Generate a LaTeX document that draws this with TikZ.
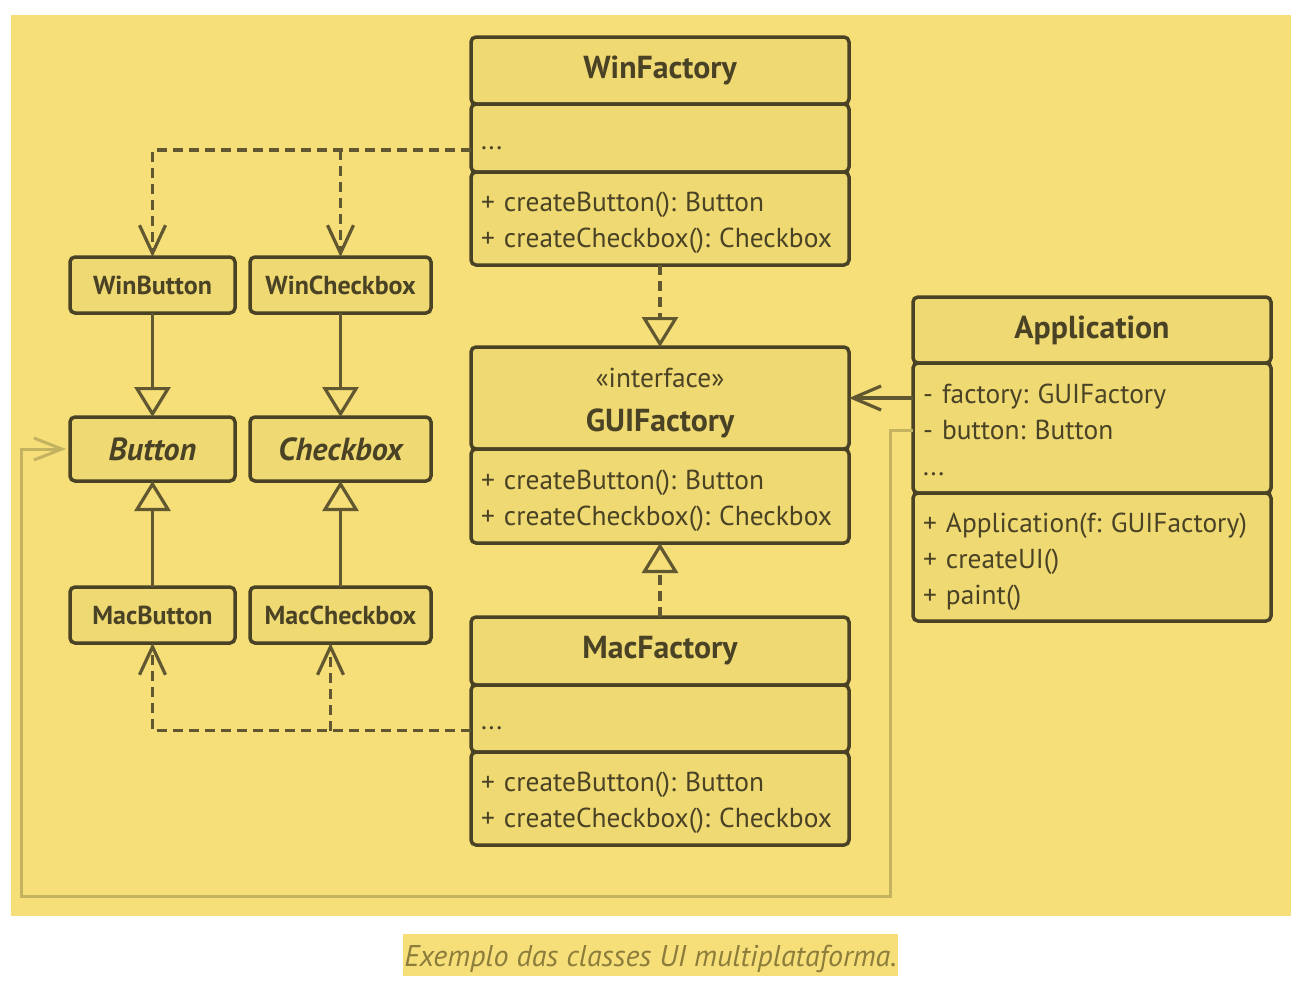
\documentclass[tikz,border=0pt]{standalone}
\usepackage{fontspec}
\setmainfont{PT Sans}
\usetikzlibrary{arrows.meta,calc}
\definecolor{bg}{HTML}{F6DF78}
\definecolor{nfill}{HTML}{EFD973}
\definecolor{bord}{HTML}{4A4225}
\definecolor{conn}{HTML}{615831}
\definecolor{lightc}{HTML}{C3B260}
\definecolor{captxt}{HTML}{8C7D3C}
\frenchspacing
\newcommand\cltitle{\fontsize{31.8}{36}\selectfont\bfseries}
\newcommand\clmem{\fontsize{27.4}{36}\selectfont}
\newcommand\smallcls{\fontsize{26}{28}\selectfont\bfseries}
\newcommand\abscls{\fontsize{32}{34}\selectfont\bfseries\itshape}
\begin{document}
\begin{tikzpicture}[x=1pt,y=-1pt,
  comp/.style={draw=bord, fill=nfill, line width=3.5pt, rounded corners=5pt,
    inner sep=0pt, outer sep=0pt, anchor=north west, text=bord},
  memb/.style={comp, inner xsep=10pt, align=left, font=\clmem,
    execute at begin node={\rule{0pt}{29pt}}, execute at end node={\rule[-7pt]{0pt}{7pt}}},
  dep/.style={draw=conn, line width=3.2pt, dash pattern=on 10pt off 6pt,
    -{Straight Barb[length=28pt,width=26pt]}},
  assoc/.style={draw=conn, line width=3.2pt, -{Straight Barb[length=28pt,width=24pt]}},
  gen/.style={draw=conn, line width=3.2pt, -{Triangle[open,length=30pt,width=36pt]}},
  real/.style={gen, dash pattern=on 10pt off 6pt},
  lightl/.style={draw=lightc, line width=3pt, -{Straight Barb[length=28pt,width=22pt]}}
]
\useasboundingbox (0,0) rectangle (1316,994);
\fill[bg] (11,15) rectangle (1291,916);

% WinFactory
\node[comp, minimum width=378pt, minimum height=67pt, font=\cltitle] (wfT) at (471,37) {WinFactory};
\node[memb, text width=358pt, minimum height=68pt] (wfA) at (471,104) {...};
\node[memb, text width=358pt, minimum height=93pt] (wfM) at (471,172) {+ createButton(): Button\\+ createCheckbox(): Checkbox};

% GUIFactory
\node[comp, minimum width=378pt, minimum height=102pt, align=center, font=\clmem] (guiT) at (471,347)
  {\rule{0pt}{29pt}«interface»\\[8pt]{\cltitle GUIFactory}};
\node[memb, text width=358pt, minimum height=94pt] (guiM) at (471,449) {+ createButton(): Button\\+ createCheckbox(): Checkbox};

% MacFactory
\node[comp, minimum width=378pt, minimum height=68pt, font=\cltitle] (mfT) at (471,617) {MacFactory};
\node[memb, text width=358pt, minimum height=67pt] (mfA) at (471,685) {...};
\node[memb, text width=358pt, minimum height=93pt] (mfM) at (471,752) {+ createButton(): Button\\+ createCheckbox(): Checkbox};

% Application
\node[comp, minimum width=358pt, minimum height=66pt, font=\cltitle] (apT) at (913,297) {Application};
\node[memb, text width=338pt, minimum height=130pt] (apA) at (913,363) {- factory: GUIFactory\\- button: Button\\...};
\node[memb, text width=338pt, minimum height=128pt] (apM) at (913,493) {+ Application(f: GUIFactory)\\+ createUI()\\+ paint()};

% products
\node[comp, minimum width=165pt, minimum height=56pt, font=\smallcls] (wb) at (70,257) {WinButton};
\node[comp, minimum width=181pt, minimum height=56pt, font=\smallcls] (wc) at (250,257) {WinCheckbox};
\node[comp, minimum width=165pt, minimum height=64pt, font=\abscls] (btn) at (70,417) {Button};
\node[comp, minimum width=181pt, minimum height=64pt, font=\abscls] (chk) at (250,417) {Checkbox};
\node[comp, minimum width=165pt, minimum height=56pt, font=\smallcls] (mb) at (70,587) {MacButton};
\node[comp, minimum width=181pt, minimum height=56pt, font=\smallcls] (mc) at (250,587) {MacCheckbox};

% connectors
\coordinate (wfo) at ([yshift=-12pt]wfA.west);
\coordinate (mfo) at ([yshift=-12pt]mfA.west);
\draw[dep] (wfo) -| (wb.north);
\draw[dep] (wc.north |- wfo) -- (wc.north);
\draw[dep] (mfo) -| (mb.south);
\draw[dep] ([xshift=-10pt]mc.south |- mfo) -- ([xshift=-10pt]mc.south);

\draw[gen] (wb.south) -- (btn.north);
\draw[gen] (wc.south) -- (chk.north);
\draw[gen] (mb.north) -- (btn.south);
\draw[gen] (mc.north) -- (chk.south);

\draw[real] (wfM.south) -- (guiT.north);
\draw[real] (mfT.north) -- (guiM.south);

\draw[assoc] (apA.west |- guiT.east) -- (guiT.east);

\coordinate (c1) at (890,896);
\coordinate (c2) at (21,896);
\draw[lightl, line join=miter] ([yshift=-2pt]apA.west) -| (c1) -- (c2) |- ([xshift=-4pt]btn.west);

% caption
\node[fill=bg, inner xsep=1pt, inner ysep=0pt, text height=32pt, text depth=10pt, text=captxt,
  font=\fontsize{30}{32}\selectfont\itshape, anchor=base] (cap) at (650.5,966)
  {Exemplo das classes UI multiplataforma.};
\end{tikzpicture}
\end{document}
